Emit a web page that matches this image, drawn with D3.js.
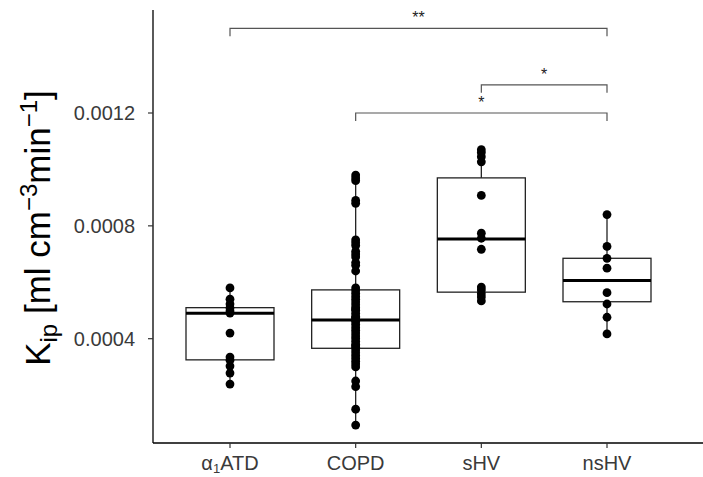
<!DOCTYPE html>
<html>
<head>
<meta charset="utf-8">
<script src="https://cdnjs.cloudflare.com/ajax/libs/d3/7.8.5/d3.min.js"></script>
<style>
body { margin: 0; background: #fff; }
svg { font-family: "Liberation Sans", Arial, sans-serif; }
</style>
</head>
<body>
<div id="chart"></div>
<script>
// groups on the x axis
var groups = ["a1ATD", "COPD", "sHV", "nsHV"];

// raw points per group (Kip)
var ptsA1ATD = [0.00058, 0.00054, 0.000523, 0.000509, 0.000498, 0.000491, 0.00042,
                0.000335, 0.000324, 0.000303, 0.000278, 0.000239];
var ptsCOPD = [0.00098, 0.00097, 0.00096, 0.00089, 0.00088, 0.00075, 0.00074, 0.00073,
               0.00071, 0.0007, 0.00069, 0.00067, 0.00066, 0.00064, 0.00058, 0.00057,
               0.00056, 0.00055, 0.00054, 0.00053, 0.00052, 0.00051, 0.000505, 0.0005,
               0.00049, 0.00048, 0.000475, 0.00047, 0.000465, 0.00046, 0.00045, 0.00044,
               0.00043, 0.00042, 0.00041, 0.0004, 0.00039, 0.00038, 0.000375, 0.00037,
               0.00036, 0.00035, 0.00034, 0.00033, 0.00032, 0.00031, 0.0003, 0.00025,
               0.00023, 0.00015, 0.000094];
var ptsSHV = [0.00107, 0.00106, 0.001045, 0.001027, 0.000908, 0.000774, 0.000756,
              0.000717, 0.000583, 0.000573, 0.000559, 0.000548, 0.000534];
var ptsNSHV = [0.00084, 0.000727, 0.000685, 0.00065, 0.000563, 0.000523, 0.000476, 0.000417];

// box summaries
var boxLow = [0.00024, 0.000094, 0.000534, 0.000417];
var boxQ1 = [0.000325, 0.000366, 0.000565, 0.000531];
var boxMed = [0.00049, 0.000466, 0.000753, 0.000606];
var boxQ3 = [0.00051, 0.000573, 0.00097, 0.000685];
var boxHigh = [0.00058, 0.00098, 0.00107, 0.00084];

var yTicks = [0.0004, 0.0008, 0.0012];

// significance brackets
var brFrom = ["a1ATD", "sHV", "COPD"];
var brTo = ["nsHV", "nsHV", "nsHV"];
var brY = [0.0015, 0.0013, 0.0012];
var brLabel = ["**", "*", "*"];

var allPts = [ptsA1ATD, ptsCOPD, ptsSHV, ptsNSHV];

var width = 703, height = 477;
var margin = {top: 10, left: 153, bottom: 443};

var svg = d3.select("#chart").append("svg")
    .attr("width", width)
    .attr("height", height);

var x = d3.scalePoint().domain(groups).range([230, 607]);
var y = d3.scaleLinear().domain([0.0004, 0.0012]).range([338.7, 113]);
var boxW = 88;

// boxes
var g = svg.append("g");
groups.forEach(function(grp, i) {
  var cx = x(grp);
  g.append("line")
    .attr("x1", cx).attr("x2", cx)
    .attr("y1", y(boxQ3[i])).attr("y2", y(boxHigh[i]))
    .attr("stroke", "#222").attr("stroke-width", 1.3);
  g.append("line")
    .attr("x1", cx).attr("x2", cx)
    .attr("y1", y(boxQ1[i])).attr("y2", y(boxLow[i]))
    .attr("stroke", "#222").attr("stroke-width", 1.3);
  g.append("rect")
    .attr("x", cx - boxW / 2)
    .attr("y", y(boxQ3[i]))
    .attr("width", boxW)
    .attr("height", y(boxQ1[i]) - y(boxQ3[i]))
    .attr("fill", "#fff")
    .attr("stroke", "#222")
    .attr("stroke-width", 1.3);
  g.append("line")
    .attr("x1", cx - boxW / 2).attr("x2", cx + boxW / 2)
    .attr("y1", y(boxMed[i])).attr("y2", y(boxMed[i]))
    .attr("stroke", "#000").attr("stroke-width", 3);
});

// points
groups.forEach(function(grp, i) {
  g.selectAll(null)
    .data(allPts[i])
    .enter()
    .append("circle")
    .attr("cx", x(grp))
    .attr("cy", function(d) { return y(d); })
    .attr("r", 4.4)
    .attr("fill", "#000");
});

// axes
svg.append("line")
  .attr("x1", margin.left).attr("x2", margin.left)
  .attr("y1", margin.top).attr("y2", margin.bottom)
  .attr("stroke", "#000").attr("stroke-width", 1.3);
svg.append("line")
  .attr("x1", margin.left).attr("x2", width)
  .attr("y1", margin.bottom).attr("y2", margin.bottom)
  .attr("stroke", "#000").attr("stroke-width", 1.3);

var yAxis = svg.append("g").attr("class", "yaxis");
yTicks.forEach(function(t) {
  yAxis.append("line")
    .attr("x1", margin.left - 5).attr("x2", margin.left)
    .attr("y1", y(t)).attr("y2", y(t))
    .attr("stroke", "#333").attr("stroke-width", 1.2);
  yAxis.append("text")
    .attr("x", margin.left - 18)
    .attr("y", y(t))
    .attr("dy", "0.35em")
    .attr("text-anchor", "end")
    .attr("fill", "#3a3a3a")
    .style("font-size", "20px")
    .text(d3.format(".4f")(t));
});

var xAxis = svg.append("g").attr("class", "xaxis");
groups.forEach(function(grp) {
  xAxis.append("line")
    .attr("x1", x(grp)).attr("x2", x(grp))
    .attr("y1", margin.bottom).attr("y2", margin.bottom + 5)
    .attr("stroke", "#333").attr("stroke-width", 1.2);
  var t = xAxis.append("text")
    .attr("x", x(grp))
    .attr("y", 470)
    .attr("text-anchor", "middle")
    .attr("fill", "#3a3a3a")
    .style("font-size", "20px");
  if (grp == "a1ATD") {
    t.append("tspan").text("\u03b1");
    t.append("tspan").attr("dy", 3).style("font-size", "13px").text("1");
    t.append("tspan").attr("dy", -3).text("ATD");
  } else {
    t.text(grp);
  }
});

// y label
var yLabel = svg.append("text")
  .attr("transform", "translate(50,228) rotate(-90)")
  .attr("text-anchor", "middle")
  .attr("fill", "#000")
  .style("font-size", "35px");
yLabel.append("tspan").text("K");
yLabel.append("tspan").attr("dy", 7).style("font-size", "24px").text("ip");
yLabel.append("tspan").attr("dy", -7).text(" [ml cm");
yLabel.append("tspan").attr("dy", -13).style("font-size", "24px").text("\u22123");
yLabel.append("tspan").attr("dy", 13).text("min");
yLabel.append("tspan").attr("dy", -13).style("font-size", "24px").text("\u22121");
yLabel.append("tspan").attr("dy", 13).text("]");

// brackets
var tickLen = 8;
brFrom.forEach(function(f, i) {
  var x1 = x(f), x2 = x(brTo[i]), yy = y(brY[i]);
  svg.append("path")
    .attr("d", "M" + x1 + "," + (yy + tickLen) + "V" + yy + "H" + x2 + "V" + (yy + tickLen))
    .attr("fill", "none")
    .attr("stroke", "#555")
    .attr("stroke-width", 1.2);
  svg.append("text")
    .attr("x", (x1 + x2) / 2)
    .attr("y", yy - 5)
    .attr("text-anchor", "middle")
    .attr("fill", "#222")
    .style("font-size", "16px")
    .text(brLabel[i]);
});
</script>
</body>
</html>
